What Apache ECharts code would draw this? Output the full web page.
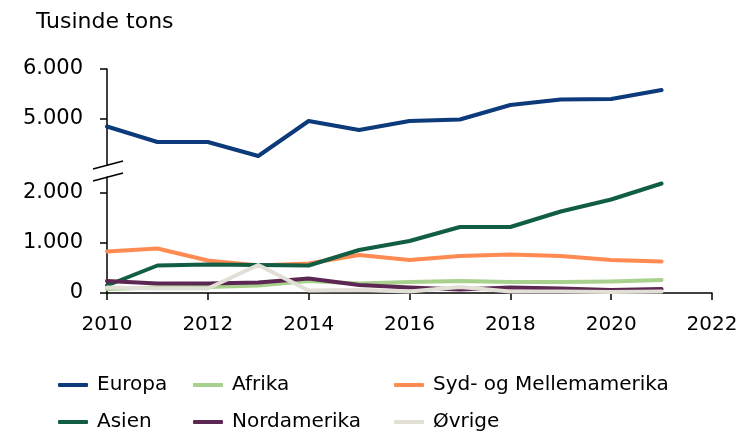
<!DOCTYPE html>
<html>
<head>
<meta charset="utf-8">
<script src="https://cdn.jsdelivr.net/npm/echarts@6/dist/echarts.min.js"></script>
<style>
  html, body { margin: 0; padding: 0; background: #fff; }
  #chart { width: 743px; height: 431px; }
</style>
</head>
<body>
<div id="chart"></div>
<script>
// Years on the x axis
const years = [2010, 2011, 2012, 2013, 2014, 2015, 2016, 2017, 2018, 2019, 2020, 2021];

// Thousand tonnes by region
const europa      = [4850, 4540, 4540, 4260, 4960, 4780, 4960, 4990, 5280, 5390, 5400, 5580];
const afrika      = [80, 110, 120, 150, 240, 190, 220, 240, 220, 220, 230, 260];
const sydMellem   = [830, 890, 650, 550, 590, 760, 660, 740, 770, 740, 660, 630];
const asien       = [150, 550, 570, 560, 550, 860, 1040, 1320, 1320, 1630, 1870, 2190];
const nordamerika = [240, 190, 190, 210, 290, 160, 110, 70, 110, 90, 60, 80];
const oevrige     = [110, 90, 90, 560, 50, 60, 30, 120, 30, 30, 20, 30];

// Tick labels
const xTicks = [2010, 2012, 2014, 2016, 2018, 2020, 2022];
const yTicksUpper = [5000, 6000];
const yTicksLower = [0, 1000, 2000];

const FONT = 'DejaVu Sans';
const fmt = v => String(v).replace(/\B(?=(\d{3})+(?!\d))/g, '.');
const pairs = arr => years.map((y, i) => [y, arr[i]]);

const seriesDefs = [
  { name: 'Europa', data: europa, color: '#0c3a7a', grid: 0 },
  { name: 'Afrika', data: afrika, color: '#a9d18e', grid: 1 },
  { name: 'Syd- og Mellemamerika', data: sydMellem, color: '#ff8b52', grid: 1 },
  { name: 'Asien', data: asien, color: '#125e42', grid: 1 },
  { name: 'Nordamerika', data: nordamerika, color: '#5c2752', grid: 1 },
  { name: 'Øvrige', data: oevrige, color: '#e1dfd6', grid: 1 }
];

const axisLineStyle = { color: '#000', width: 1.5 };

function xAxis(gridIndex, visible) {
  return {
    type: 'value', gridIndex, min: 2010, max: 2022, interval: 2,
    show: visible,
    axisLine: { show: true, onZero: false, lineStyle: axisLineStyle },
    axisTick: { show: true, length: 7, lineStyle: axisLineStyle, customValues: xTicks },
    axisLabel: { show: true, margin: 22, fontFamily: FONT, fontSize: 20, color: '#000',
                 customValues: xTicks, formatter: v => String(v) },
    splitLine: { show: false }
  };
}

function yAxis(gridIndex, min, max, ticks) {
  return {
    type: 'value', gridIndex, min, max,
    axisLine: { show: true, lineStyle: axisLineStyle },
    axisTick: { show: true, length: 7, lineStyle: axisLineStyle, customValues: ticks },
    axisLabel: { margin: 24, fontFamily: FONT, fontSize: 21, color: '#000',
                 customValues: ticks, formatter: v => fmt(v) },
    splitLine: { show: false }
  };
}

// Legend laid out as a 3 x 2 table
const legendCols = [58, 193, 394];
const legendRows = [375, 412];
const legends = seriesDefs.map((s, i) => ({
  data: [s.name],
  left: legendCols[i % 3],
  top: legendRows[Math.floor(i / 3)],
  padding: 0,
  icon: 'roundRect',
  itemWidth: 30, itemHeight: 4, itemGap: 10,
  selectedMode: false,
  textStyle: { fontFamily: FONT, fontSize: 20, color: '#000', lineHeight: 20, padding: [0, 0, 0, 4] }
}));

const chart = echarts.init(document.getElementById('chart'), null, { renderer: 'canvas' });

chart.setOption({
  animation: false,
  backgroundColor: '#fff',
  title: {
    text: 'Tusinde tons', left: 31, top: 6,
    textStyle: { fontFamily: FONT, fontSize: 22, fontWeight: 'normal', color: '#000' }
  },
  legend: legends,
  grid: [
    { left: 107, right: 31, top: 69, height: 96 },
    { left: 107, right: 31, top: 177, height: 116 }
  ],
  xAxis: [xAxis(0, false), xAxis(1, true)],
  yAxis: [yAxis(0, 4080, 6000, yTicksUpper), yAxis(1, 0, 2320, yTicksLower)],
  series: seriesDefs.map(s => ({
    name: s.name, type: 'line',
    xAxisIndex: s.grid, yAxisIndex: s.grid,
    data: pairs(s.data),
    showSymbol: false, symbol: 'none',
    color: s.color,
    lineStyle: { width: 4, color: s.color, cap: 'round', join: 'round' }
  }))
});

// Axis break marks between the two value ranges
const xAxisPx = chart.convertToPixel({ xAxisIndex: 1 }, 2010);
const upperEnd = chart.convertToPixel({ yAxisIndex: 0 }, 4080);
const lowerEnd = chart.convertToPixel({ yAxisIndex: 1 }, 2320);
const slash = (cy) => ({
  type: 'line',
  shape: { x1: xAxisPx - 14, y1: cy + 4, x2: xAxisPx + 16, y2: cy - 4 },
  style: { stroke: '#000', lineWidth: 1.5 }
});
chart.setOption({
  graphic: [slash(upperEnd), slash(lowerEnd)]
});
</script>
</body>
</html>
